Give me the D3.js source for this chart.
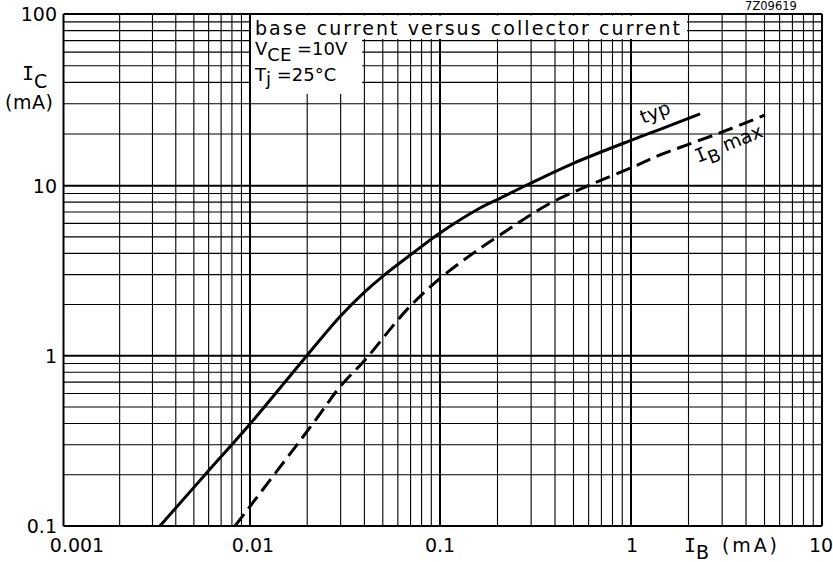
<!DOCTYPE html>
<html><head><meta charset="utf-8">
<script src="https://cdn.jsdelivr.net/npm/d3@7"></script>
<style>
body{margin:0;background:#fff}
svg{display:block}
text{font-family:"DejaVu Sans",sans-serif;fill:#000}
.mono{font-family:"DejaVu Sans Mono",monospace}
</style>
</head><body>
<svg id="c" width="833" height="562"></svg>
<script>
// ---- data (mA) ----
const typIB = [0.00329,0.00574,0.01,0.0199,0.0298,0.0403,0.0501,0.0721,0.1,0.162,0.206,0.296,0.499,1.03,1.42,2.30];
const typIC = [0.1,0.2,0.397,1.0,1.70,2.38,2.94,4.02,5.27,7.39,8.43,10.3,13.5,18.6,21.3,26.2];
const maxIB = [0.00831,0.0215,0.0298,0.0403,0.0668,0.1,0.162,0.206,0.377,0.610,1.03,1.42,2.92,5.03];
const maxIC = [0.1,0.401,0.658,0.944,1.86,2.85,4.28,5.13,7.88,10.1,12.9,15.1,20.3,25.8];
const xTickValues = [0.001,0.01,0.1,1,10];
const xTickLabels = ["0.001","0.01","0.1","1","10"];
const yTickValues = [0.1,1,10,100];
const yTickLabels = ["0.1","1","10","100"];

const svg = d3.select("#c");
const x = d3.scaleLog().domain([0.001,0.01,0.1,1,10]).range([63.5,250,440,631,822]);
const y = d3.scaleLog().domain([100,10,1,0.1]).range([14,185.7,355.7,526]);
const isMajor = v => Math.abs(Math.log10(v) - Math.round(Math.log10(v))) < 1e-6;

const gx = x.ticks().filter(v => v >= 0.001 && v <= 10);
const gy = y.ticks().filter(v => v >= 0.1 && v <= 100);

const grid = svg.append("g").attr("stroke","#000");
grid.selectAll("line.v").data(gx).join("line")
  .attr("x1", d => x(d)).attr("x2", d => x(d))
  .attr("y1", y(100)).attr("y2", y(0.1))
  .attr("stroke-width", d => isMajor(d) ? 2 : 1.1);
grid.selectAll("line.h").data(gy).join("line")
  .attr("y1", d => y(d)).attr("y2", d => y(d))
  .attr("x1", x(0.001)).attr("x2", x(10))
  .attr("stroke-width", d => isMajor(d) ? 2 : 1.1);

// legend white box (L-shaped)
svg.append("rect").attr("x", x(0.01)+1).attr("y", y(100)+1.5)
  .attr("width", x(2)-x(0.01)-2.5).attr("height", y(72)-y(100)-1).attr("fill","#fff");
svg.append("rect").attr("x", x(0.01)+1).attr("y", y(100)+1.5)
  .attr("width", x(0.0394)-x(0.01)-2).attr("height", y(35)-y(100)).attr("fill","#fff");

// curves
const line = d3.line().x(d => x(d[0])).y(d => y(d[1])).curve(d3.curveCatmullRom.alpha(0.5));
svg.append("path").datum(typIB.map((v,i)=>[v,typIC[i]]))
  .attr("d", line).attr("fill","none").attr("stroke","#000").attr("stroke-width",3);
svg.append("path").datum(maxIB.map((v,i)=>[v,maxIC[i]]))
  .attr("d", line).attr("fill","none").attr("stroke","#000").attr("stroke-width",3)
  .attr("stroke-dasharray","15,7");

// tick labels
svg.selectAll("text.yt").data(yTickValues).join("text")
  .attr("x", 57).attr("y", d => y(d)+7).attr("text-anchor","end")
  .attr("font-size",19).text((d,i)=>yTickLabels[i]);
const xOff = [13.5,3,0,1,-1];
svg.selectAll("text.xt").data(xTickValues).join("text")
  .attr("x", (d,i) => x(d)+xOff[i]).attr("y", 552).attr("text-anchor","middle")
  .attr("font-size",19).text((d,i)=>xTickLabels[i]);

// axis titles
const ic = svg.append("text").attr("x",22).attr("y",80).attr("font-size",20);
ic.append("tspan").attr("class","mono").text("I");
ic.append("tspan").attr("dy",8).attr("font-size",19).text("C");
svg.append("text").attr("x",5).attr("y",109).attr("font-size",19)
  .attr("textLength",48).attr("lengthAdjust","spacing").text("(mA)");

const ib = svg.append("text").attr("x",684).attr("y",552).attr("font-size",20);
ib.append("tspan").attr("class","mono").text("I");
ib.append("tspan").attr("dy",7).attr("font-size",19).text("B");
svg.append("text").attr("x",722).attr("y",552).attr("font-size",19)
  .attr("textLength",55).attr("lengthAdjust","spacing").text("(mA)");

// legend text
svg.append("text").attr("x",255).attr("y",35).attr("font-size",19)
  .attr("textLength",425).attr("lengthAdjust","spacing")
  .text("base current versus collector current");
const vce = svg.append("text").attr("x",255).attr("y",55).attr("font-size",18);
vce.append("tspan").text("V");
vce.append("tspan").attr("dy",6).text("CE");
vce.append("tspan").attr("dy",-6).text(" =10V");
const tj = svg.append("text").attr("x",255).attr("y",81).attr("font-size",18);
tj.append("tspan").text("T");
tj.append("tspan").attr("dy",4).text("j");
tj.append("tspan").attr("dy",-4).text(" =25\u00b0C");

// curve labels
svg.append("text").attr("transform","translate(643,124) rotate(-21)").attr("font-size",19).text("typ");
const bm = svg.append("text").attr("transform","translate(698,163) rotate(-22)").attr("font-size",19);
bm.append("tspan").attr("class","mono").text("I");
bm.append("tspan").attr("dy",6).attr("font-size",18).text("B");
bm.append("tspan").attr("dy",-6).text(" max");

svg.append("text").attr("x",771).attr("y",10).attr("text-anchor","middle")
  .attr("font-size",11.5).text("7Z09619");
</script>
</body></html>
